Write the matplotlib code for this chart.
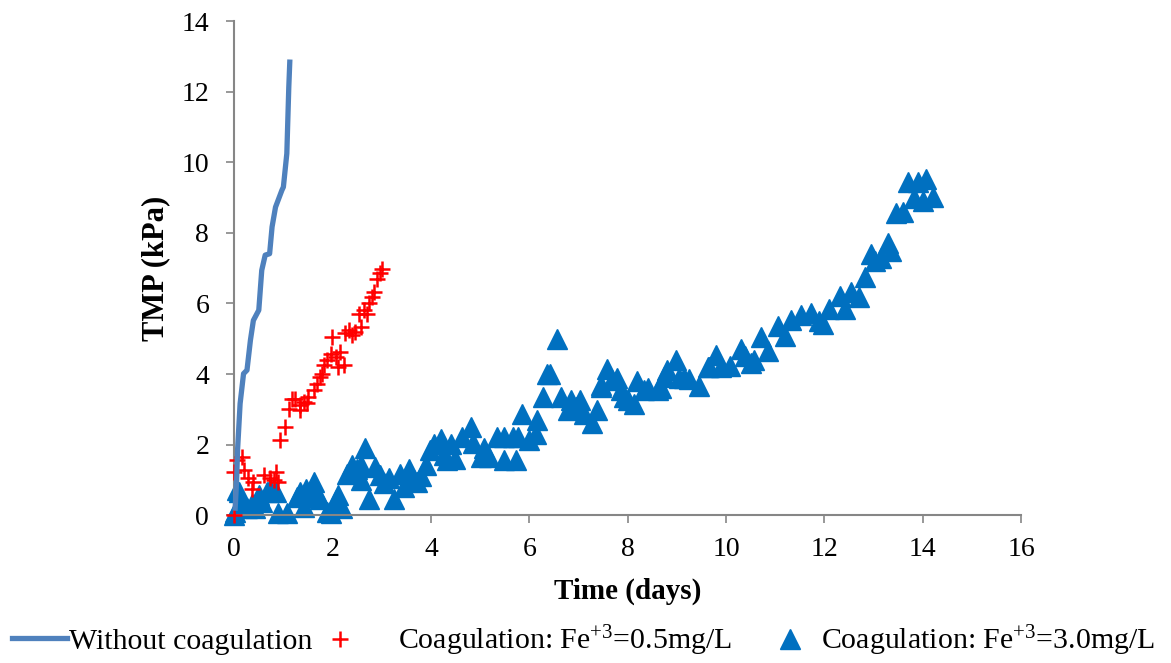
import numpy as np
import matplotlib.pyplot as plt

plt.rcParams['font.family'] = ['Liberation Serif', 'DejaVu Serif']
plt.rcParams['mathtext.fontset'] = 'custom'
plt.rcParams['mathtext.rm'] = 'Liberation Serif'
plt.rcParams['mathtext.it'] = 'Liberation Serif'

# Without coagulation (line)
no_coag_x = [0.02, 0.05, 0.068, 0.12, 0.19, 0.26, 0.33, 0.39, 0.50, 0.56, 0.63, 0.72, 0.77,
             0.84, 0.97, 1.0, 1.07, 1.11, 1.13]
no_coag_y = [0.2, 1.0, 1.84, 3.16, 4.01, 4.11, 4.96, 5.52, 5.81, 6.94, 7.37, 7.41, 8.17,
             8.73, 9.21, 9.3, 10.25, 12.13, 12.84]

# Coagulation Fe+3 = 0.5 mg/L
fe05_x = [0.0, 0.0, 0.05, 0.16, 0.19, 0.29, 0.36, 0.39, 0.60, 0.73, 0.80, 0.84, 0.90, 0.94,
          1.04, 1.11, 1.17, 1.24, 1.34, 1.34, 1.41, 1.48, 1.51, 1.62, 1.68, 1.75, 1.79, 1.82,
          1.89, 1.96, 1.99, 2.06, 2.12, 2.16, 2.23, 2.26, 2.33, 2.40, 2.46, 2.57, 2.53, 2.63,
          2.70, 2.74, 2.80, 2.84, 2.91, 2.97, 3.0]
fe05_y = [0.0, 1.23, 1.56, 1.65, 1.27, 1.04, 0.75, 0.94, 1.13, 1.04, 1.0, 1.23, 0.94, 2.14,
          2.50, 3.02, 3.30, 3.30, 3.12, 2.98, 3.21, 3.17, 3.35, 3.54, 3.73, 3.92, 4.01, 4.25,
          4.39, 4.58, 5.05, 4.48, 4.20, 4.63, 4.25, 5.15, 5.24, 5.1, 5.19, 5.33, 5.71, 5.81,
          5.7, 6.0, 6.18, 6.33, 6.70, 6.85, 6.99]

# Coagulation Fe+3 = 3.0 mg/L
fe30_x = [0.0, 0.02, 0.06, 0.09, 0.16, 0.26, 0.36, 0.43, 0.50, 0.56, 0.67, 0.73, 0.84, 0.90,
          1.07, 1.28, 1.34, 1.41, 1.45, 1.55, 1.62, 1.68, 1.75, 1.89, 1.96, 2.06, 2.12, 2.19,
          2.29, 2.40, 2.50, 2.57, 2.57, 2.65, 2.74, 2.87, 2.97, 3.04, 3.14, 3.25, 3.38, 3.45,
          3.55, 3.65, 3.72, 3.80, 3.89, 3.99, 4.06, 4.20, 4.27, 4.33, 4.40, 4.48, 4.64, 4.81,
          4.86, 5.01, 5.07, 5.19, 5.35, 5.49, 5.49, 5.66, 5.72, 5.77, 5.86, 5.99, 6.13, 6.16,
          6.27, 6.37, 6.43, 6.57, 6.64, 6.78, 6.85, 6.95, 7.04, 7.12, 7.28, 7.38, 7.45, 7.45,
          7.59, 7.69, 7.78, 7.86, 7.93, 8.0, 8.13, 8.2, 8.33, 8.42, 8.61, 8.68, 8.74, 8.81,
          8.98, 9.05, 9.15, 9.25, 9.46, 9.63, 9.66, 9.80, 9.89, 10.08, 10.31, 10.38, 10.51,
          10.56, 10.71, 10.85, 11.05, 11.19, 11.32, 11.53, 11.73, 11.9, 11.97, 12.1, 12.31,
          12.41, 12.55, 12.71, 12.82, 12.95, 13.02, 13.15, 13.29, 13.36, 13.46, 13.6, 13.70,
          13.83, 13.9, 14.0, 14.07, 14.2]
fe30_y = [0.0, 0.09, 0.7, 0.66, 0.33, 0.19, 0.33, 0.19, 0.57, 0.38, 0.66, 0.75, 0.66, 0.05,
          0.05, 0.52, 0.66, 0.24, 0.75, 0.52, 0.94, 0.61, 0.47, 0.09, 0.05, 0.42, 0.57, 0.19,
          1.18, 1.42, 1.3, 1.0, 1.42, 1.89, 0.47, 1.37, 1.13, 0.9, 1.04, 0.47, 1.18, 0.8,
          1.3, 1.0, 0.94, 1.1, 1.42, 1.84, 2.03, 2.17, 1.7, 1.56, 2.03, 1.6, 2.22, 2.5,
          2.05, 1.65, 1.9, 1.65, 2.22, 1.56, 2.22, 2.22, 1.56, 2.22, 2.88, 2.12, 2.31, 2.69,
          3.35, 4.01, 4.01, 5.0, 3.35, 2.97, 3.25, 3.07, 3.25, 2.88, 2.6, 2.97, 3.63, 3.7,
          4.15, 3.82, 3.9, 3.54, 3.35, 3.26, 3.16, 3.8, 3.54, 3.6, 3.54, 3.59, 3.92, 4.1,
          4.39, 3.9, 3.9, 3.87, 3.65, 4.2, 4.2, 4.55, 4.2, 4.22, 4.72, 4.5, 4.3,
          4.4, 5.05, 4.65, 5.35, 5.07, 5.52, 5.67, 5.72, 5.5, 5.43, 5.85, 6.2,
          5.85, 6.33, 6.18, 6.75, 7.41, 7.2, 7.3, 7.7, 7.5, 8.55, 8.6, 9.44,
          9.0, 9.44, 8.9, 9.54, 9.02]

x_ticks = [0, 2, 4, 6, 8, 10, 12, 14, 16]
y_ticks = [0, 2, 4, 6, 8, 10, 12, 14]

fig = plt.figure(figsize=(11.71, 6.63), dpi=100)
ax = fig.add_axes([0.2, 0.223, 0.672, 0.745])

l3, = ax.plot(fe30_x, fe30_y, linestyle='none', marker='^', color='#0070C0', markersize=14,
              clip_on=False, zorder=2)
l2, = ax.plot(fe05_x, fe05_y, linestyle='none', marker='+', color='#FF0000', markersize=12,
              markeredgewidth=1.8, clip_on=False, zorder=3)
l1, = ax.plot(no_coag_x, no_coag_y, color='#4F81BD', linewidth=3.8, clip_on=False, zorder=4)

ax.set_xlim(0, 16)
ax.set_ylim(0, 14)
ax.set_xticks(x_ticks)
ax.set_yticks(y_ticks)
ax.tick_params(labelsize=20, length=6, width=1.2, color='#868686')
ax.tick_params(axis='y', pad=12)
ax.tick_params(axis='x', pad=10)
for s in ['top', 'right']:
    ax.spines[s].set_visible(False)
for s in ['left', 'bottom']:
    ax.spines[s].set_color('#868686')
    ax.spines[s].set_linewidth(1.5)

ax.set_xlabel('Time (days)', fontsize=21, fontweight='bold', labelpad=11)
ax.set_ylabel('TMP (kPa)', fontsize=22, fontweight='bold', labelpad=8)

# legend entries placed one by one like the original
leg_y = 0.033
entries = [
    (l1, 'Without coagulation', 12 / 1171, 1.85, 0.05),
    (l2, 'Coagulation: Fe$^{+3}$=0.5mg/L', 325 / 1171, 1.0, 1.45),
    (l3, 'Coagulation: Fe$^{+3}$=3.0mg/L', 775 / 1171, 1.0, 0.55),
]
for h, lab, x0, hl, tp in entries:
    fig.legend([h], [lab], loc='center left', bbox_to_anchor=(x0, leg_y), frameon=False,
               fontsize=21.5, handlelength=hl, handletextpad=tp, borderpad=0,
               borderaxespad=0, markerscale=1.0)

fig.savefig('out.png', dpi=100)
